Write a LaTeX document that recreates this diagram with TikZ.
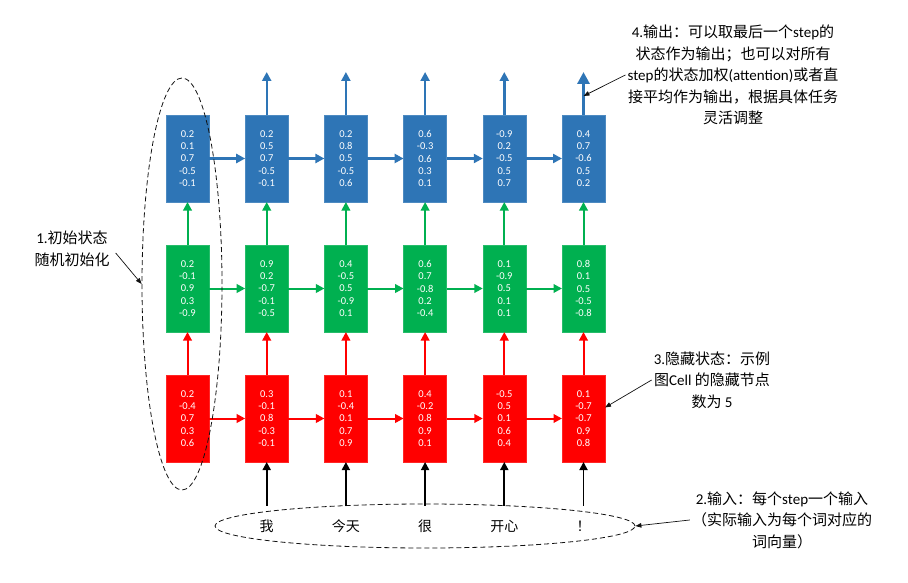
\documentclass[tikz,border=0pt]{standalone}
\usepackage{fontspec}
\setmainfont{Carlito}
\newfontfamily\cjk{Noto Sans CJK SC}
\newcommand\zhtext[1]{{\cjk #1}}
\usepackage{xcolor}
\definecolor{CellBlue}{HTML}{2E75B6}
\definecolor{CellGreen}{HTML}{00B050}
\definecolor{CellRed}{HTML}{FF0000}
\definecolor{Ink}{HTML}{111111}
\usetikzlibrary{arrows.meta,positioning,shapes.geometric}
\tikzset{
  cell/.style={minimum width=43pt,minimum height=87pt,inner sep=0pt,outer sep=0pt,
    align=center,text=white,font=\fontsize{10.5}{12.2}\selectfont},
  bluecell/.style={cell,fill=CellBlue,draw=CellBlue!85!white,line width=.6pt},
  greencell/.style={cell,fill=CellGreen,draw=CellGreen!85!white,line width=.6pt},
  redcell/.style={cell,fill=CellRed,draw=CellRed!85!white,line width=.6pt},
  blueflow/.style={-{Triangle[length=9pt,width=9pt]},line width=2.4pt,draw=CellBlue},
  greenflow/.style={-{Triangle[length=8.5pt,width=8.5pt]},line width=2pt,draw=CellGreen},
  redflow/.style={-{Triangle[length=8.5pt,width=8.5pt]},line width=2pt,draw=CellRed},
  inflow/.style={-{Triangle[length=8pt,width=8pt]},line width=1.8pt,draw=black},
  word/.style={font=\cjk\fontsize{14}{17}\selectfont,minimum height=40pt,inner sep=0pt},
  group/.style={ellipse,draw=Ink,dash pattern=on 5pt off 3pt,line width=.8pt,inner sep=0pt},
  note/.style={align=center,text=black,font=\fontsize{15}{21.5}\selectfont,inner sep=2pt},
  pointer/.style={-{Triangle[length=6pt,width=4.5pt]},line width=.7pt,draw=Ink}
}
\begin{document}
\begin{tikzpicture}[x=1pt,y=-1pt]
\path[fill=white,use as bounding box] (0,0) rectangle (908,583);

\node[redcell] (red1) at (187.5,418.5) {0.2\\-0.4\\0.7\\0.3\\0.6};
\node[redcell,right=36.2pt of red1] (red2) {0.3\\-0.1\\0.8\\-0.3\\-0.1};
\node[redcell,right=36.2pt of red2] (red3) {0.1\\-0.4\\0.1\\0.7\\0.9};
\node[redcell,right=36.2pt of red3] (red4) {0.4\\-0.2\\0.8\\0.9\\0.1};
\node[redcell,right=36.2pt of red4] (red5) {-0.5\\0.5\\0.1\\0.6\\0.4};
\node[redcell,right=36.2pt of red5] (red6) {0.1\\-0.7\\-0.7\\0.9\\0.8};

\node[greencell,above=43pt of red1] (green1) {0.2\\-0.1\\0.9\\0.3\\-0.9};
\node[greencell,above=43pt of red2] (green2) {0.9\\0.2\\-0.7\\-0.1\\-0.5};
\node[greencell,above=43pt of red3] (green3) {0.4\\-0.5\\0.5\\-0.9\\0.1};
\node[greencell,above=43pt of red4] (green4) {0.6\\0.7\\-0.8\\0.2\\-0.4};
\node[greencell,above=43pt of red5] (green5) {0.1\\-0.9\\0.5\\0.1\\0.1};
\node[greencell,above=43pt of red6] (green6) {0.8\\0.1\\0.5\\-0.5\\-0.8};

\node[bluecell,above=43pt of green1] (blue1) {0.2\\0.1\\0.7\\-0.5\\-0.1};
\node[bluecell,above=43pt of green2] (blue2) {0.2\\0.5\\0.7\\-0.5\\-0.1};
\node[bluecell,above=43pt of green3] (blue3) {0.2\\0.8\\0.5\\-0.5\\0.6};
\node[bluecell,above=43pt of green4] (blue4) {0.6\\-0.3\\0.6\\0.3\\0.1};
\node[bluecell,above=43pt of green5] (blue5) {-0.9\\0.2\\-0.5\\0.5\\0.7};
\node[bluecell,above=43pt of green6] (blue6) {0.4\\0.7\\-0.6\\0.5\\0.2};

\coordinate[above=43pt of blue2] (out2);
\coordinate[above=43pt of blue3] (out3);
\coordinate[above=43pt of blue4] (out4);
\coordinate[above=43pt of blue5] (out5);
\coordinate[above=43pt of blue6] (out6);

\draw[redflow] (red1) -- (red2);
\draw[redflow] (red2) -- (red3);
\draw[redflow] (red3) -- (red4);
\draw[redflow] (red4) -- (red5);
\draw[redflow] (red5) -- (red6);
\draw[greenflow] (green1) -- (green2);
\draw[greenflow] (green2) -- (green3);
\draw[greenflow] (green3) -- (green4);
\draw[greenflow] (green4) -- (green5);
\draw[greenflow] (green5) -- (green6);
\draw[blueflow] (blue1) -- (blue2);
\draw[blueflow] (blue2) -- (blue3);
\draw[blueflow] (blue3) -- (blue4);
\draw[blueflow] (blue4) -- (blue5);
\draw[blueflow] (blue5) -- (blue6);

\draw[redflow] (red1) -- (green1);
\draw[redflow] (red2) -- (green2);
\draw[redflow] (red3) -- (green3);
\draw[redflow] (red4) -- (green4);
\draw[redflow] (red5) -- (green5);
\draw[redflow] (red6) -- (green6);
\draw[greenflow] (green1) -- (blue1);
\draw[greenflow] (green2) -- (blue2);
\draw[greenflow] (green3) -- (blue3);
\draw[greenflow] (green4) -- (blue4);
\draw[greenflow] (green5) -- (blue5);
\draw[greenflow] (green6) -- (blue6);

\draw[blueflow] (blue2) -- (out2);
\draw[blueflow] (blue3) -- (out3);
\draw[blueflow] (blue4) -- (out4);
\draw[blueflow] (blue5) -- (out5);
\draw[blueflow,line width=3.8pt,-{Triangle[length=12pt,width=12pt]}] (blue6) -- (out6);

\node[group,minimum width=420pt,minimum height=44pt] (words) at (425,526) {};
\node[word] (w2) at (red2 |- words) {我};
\node[word] (w3) at (red3 |- words) {今天};
\node[word] (w4) at (red4 |- words) {很};
\node[word] (w5) at (red5 |- words) {开心};
\node[word] (w6) at (red6 |- words) {！};
\draw[inflow] (w2) -- (red2);
\draw[inflow] (w3) -- (red3);
\draw[inflow] (w4) -- (red4);
\draw[inflow] (w5) -- (red5);
\draw[inflow] (w6) -- (red6);

\node[group,minimum width=80pt,minimum height=412pt] (init) at (182,284) {};

\node[note] (note1) at (72,249) {1.\zhtext{初始状态}\\\zhtext{随机初始化}};
\node[note] (note2) at (782,520)
  {2.\zhtext{输入：每个}step\zhtext{一个输入}\\\zhtext{（实际输入为每个词对应的}\\\zhtext{词向量）}};
\node[note] (note3) at (712,380)
  {3.\zhtext{隐藏状态：示例}\\\zhtext{图}Cell \zhtext{的隐藏节点}\\\zhtext{数为} 5};
\node[note] (note4) at (733,75)
  {4.\zhtext{输出：可以取最后一个}step\zhtext{的}\\\zhtext{状态作为输出；也可以对所有}\\
   step\zhtext{的状态加权}(attention)\zhtext{或者直}\\\zhtext{接平均作为输出，根据具体任务}\\\zhtext{灵活调整}};

\draw[pointer] ([xshift=4pt,yshift=-4pt]note1.east) -- (init.west);
\draw[pointer] (note2.west) -- (words.east);
\draw[pointer] (note3.west) -- ([yshift=11pt]red6.east);
\draw[pointer] (note4.west) -- ([yshift=19pt]blue6.north);
\end{tikzpicture}
\end{document}
